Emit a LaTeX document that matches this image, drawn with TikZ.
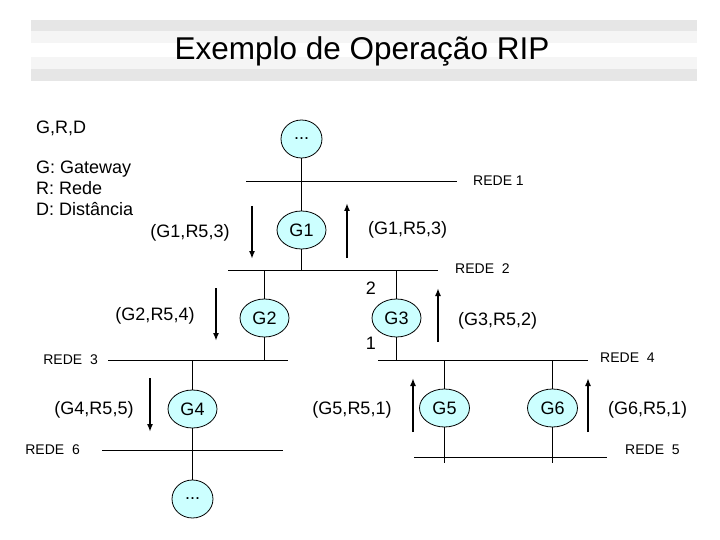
\documentclass[tikz,border=0pt]{standalone}
\usepackage{fontspec}
\setmainfont{Liberation Sans}
\usetikzlibrary{shapes.geometric,arrows.meta}
\definecolor{gwfill}{HTML}{CCFFFF}
\definecolor{bandgray}{HTML}{E6E6E6}
\definecolor{bandlight}{HTML}{F5F5F5}
\begin{document}
\begin{tikzpicture}[x=1pt,y=-1pt,
	gw/.style={ellipse, draw, line width=0.8pt, fill=gwfill, minimum width=49pt, minimum height=38pt, inner sep=0pt, font=\fontsize{18}{20}\selectfont},
	net/.style={line width=0.8pt},
	link/.style={line width=0.8pt},
	msg/.style={line width=1.8pt, -{Latex[length=8pt,width=6pt]}},
	lbl/.style={font=\fontsize{18}{20}\selectfont, inner sep=0pt},
	netlbl/.style={font=\fontsize{14}{16}\selectfont, inner sep=0pt}]
	\useasboundingbox (0,0) rectangle (720,540);
	% title band
	\fill[bandgray] (31,20) rectangle (697,31);
	\fill[bandlight] (31,31) rectangle (697,43);
	\fill[bandlight] (31,57) rectangle (697,69);
	\fill[bandgray] (31,69) rectangle (697,81);
	\node[font=\fontsize{31.5}{36}\selectfont] (title) at (362,51) {Exemplo de Operação RIP};
	
	\node[lbl, anchor=west] (grd) at (36,128) {G,R,D};
	\node[lbl, anchor=north west, align=left, font=\fontsize{18}{21}\selectfont] (legend) at (36,161) {G: Gateway\\R: Rede\\D: Distância};
	
	% networks
	\coordinate (r1a) at (246,181); \coordinate (r1b) at (457,181);
	\coordinate (r2a) at (228,270); \coordinate (r2b) at (438,270);
	\coordinate (r3a) at (108,360); \coordinate (r3b) at (288,360);
	\coordinate (r4a) at (378,360); \coordinate (r4b) at (588,360);
	\coordinate (r6a) at (102,450); \coordinate (r6b) at (283,450);
	\coordinate (r5a) at (414,457); \coordinate (r5b) at (607,457);
	\draw[net] (r1a) -- (r1b);
	\draw[net] (r2a) -- (r2b);
	\draw[net] (r3a) -- (r3b);
	\draw[net] (r4a) -- (r4b);
	\draw[net] (r6a) -- (r6b);
	\draw[net] (r5a) -- (r5b);
	\node[netlbl, anchor=west] (rede1) at (473,181) {REDE 1};
	\node[netlbl, anchor=west] (rede2) at (455,269) {REDE\ \ 2};
	\node[netlbl, anchor=east] (rede3) at (98,360) {REDE\ \ 3};
	\node[netlbl, anchor=west] (rede4) at (600,358) {REDE\ \ 4};
	\node[netlbl, anchor=east] (rede6) at (80,450) {REDE\ \ 6};
	\node[netlbl, anchor=west] (rede5) at (625,450) {REDE\ \ 5};
	
	% gateways
	\node[gw, minimum width=41pt] (topdots) at (301.5,139) {...};
	\node[gw] (g1) at (301.5,230) {G1};
	\node[gw] (g2) at (264.5,318) {G2};
	\node[gw] (g3) at (396.5,318) {G3};
	\node[gw] (g4) at (192.5,409) {G4};
	\node[gw, minimum width=50pt] (g5) at (444.5,408) {G5};
	\node[gw, minimum width=50pt] (g6) at (552.5,408) {G6};
	\node[gw, minimum width=41pt] (botdots) at (192.5,499) {...};
	
	\draw[link] (topdots.south) -- (g1.north);
	\draw[link] (g1.south) -- (g1 |- r2a);
	\draw[link] (g2 |- r2a) -- (g2.north);
	\draw[link] (g2.south) -- (g2 |- r3a);
	\draw[link] (g3 |- r2a) -- (g3.north);
	\draw[link] (g3.south) -- (g3 |- r4a);
	\draw[link] (g4 |- r3a) -- (g4.north);
	\draw[link] (g4.south) -- (botdots.north);
	\draw[link] (g5 |- r4a) -- (g5.north);
	\draw[link] (g5.south) -- ([yshift=-6pt]g5 |- r5a);
	\draw[link] (g6 |- r4a) -- (g6.north);
	\draw[link] (g6.south) -- ([yshift=-6pt]g6 |- r5a);
	\node[lbl] (two) at (371,288) {2};
	\node[lbl] (one) at (371,343) {1};
	
	% messages
	\coordinate (m1a) at (252,206); \coordinate (m1b) at (252,259);
	\coordinate (m2a) at (347,258); \coordinate (m2b) at (347,203);
	\coordinate (m3a) at (216,288); \coordinate (m3b) at (216,341);
	\coordinate (m4a) at (438,342); \coordinate (m4b) at (438,288);
	\coordinate (m5a) at (150,378); \coordinate (m5b) at (150,432);
	\coordinate (m6a) at (413,432); \coordinate (m6b) at (413,378);
	\coordinate (m7a) at (588,432); \coordinate (m7b) at (588,378);
	\draw[msg] (m1a) -- (m1b);
	\draw[msg] (m2a) -- (m2b);
	\draw[msg] (m3a) -- (m3b);
	\draw[msg] (m4a) -- (m4b);
	\draw[msg] (m5a) -- (m5b);
	\draw[msg] (m6a) -- (m6b);
	\draw[msg] (m7a) -- (m7b);
	\node[lbl] (v1) at (190,233) {(G1,R5,3)};
	\node[lbl, anchor=west] (v2) at (368,230) {(G1,R5,3)};
	\node[lbl] (v3) at (155,316) {(G2,R5,4)};
	\node[lbl, anchor=west] (v4) at (458,321) {(G3,R5,2)};
	\node[lbl] (v5) at (94,410) {(G4,R5,5)};
	\node[lbl] (v6) at (352,410) {(G5,R5,1)};
	\node[lbl, anchor=west] (v7) at (608,410) {(G6,R5,1)};
\end{tikzpicture}
\end{document}
